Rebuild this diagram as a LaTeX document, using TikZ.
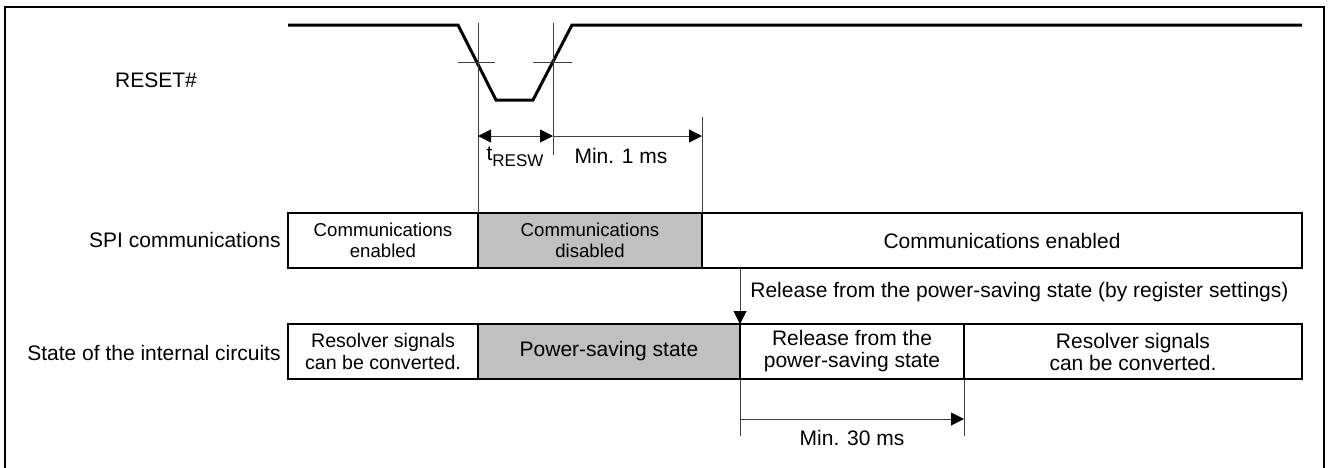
\documentclass[tikz,border=0pt]{standalone}
\usepackage{fontspec}
\setmainfont{Liberation Sans}
\usetikzlibrary{arrows.meta}
\begin{document}
\begin{tikzpicture}[x=0.5pt,y=-0.5pt,
  lbl/.style={inner sep=0pt, font=\fontsize{10.5}{12}\selectfont},
  box/.style={draw, line width=1.1pt, inner sep=0pt, outer sep=0pt, minimum height=27.5pt, anchor=west, align=center, font=\fontsize{10.5}{11}\selectfont},
  smallbox/.style={box, font=\fontsize{9.3}{10.6}\selectfont},
  midbox/.style={box, font=\fontsize{9.8}{10.6}\selectfont},
  offbox/.style={fill=offgray},
  thin/.style={line width=0.5pt, draw=black!75},
  sig/.style={line width=1.5pt, line join=miter},
  tip/.style={-{Triangle[length=6.5pt,width=6.5pt,color=black]}},
  tips/.style={{Triangle[length=6.5pt,width=6.5pt,color=black]}-{Triangle[length=6.5pt,width=6.5pt,color=black]}}
]
\definecolor{offgray}{HTML}{C0C0C0}
\useasboundingbox (0,0) rectangle (1328,467);
% frame
\draw[line width=1pt] (5,470) -- (5,7) -- (1324,7) -- (1324,470);

% labels
\node[lbl] (lreset) at (156,80) {RESET\#};
\node[lbl, anchor=east] (lspi) at (281,240) {SPI communications};
\node[lbl, anchor=east] (lstate) at (281,353) {State of the internal circuits};

% RESET# waveform
\draw[sig] (288,25) -- (458,25) -- (496,100) -- (533,100) -- (572,25) -- (1302,25);
\draw[thin] (458,62) -- (495,62);
\draw[thin] (533,62) -- (572,62);

% SPI row
\node[smallbox, minimum width=95pt] (s1) at (288,240.5) {Communications\\enabled};
\node[smallbox, offbox, minimum width=112pt] (s2) at (478,240.5) {Communications\\disabled};
\node[box, minimum width=300pt] (s3) at (702,240.5) {Communications enabled};

% State row
\node[midbox, minimum width=95pt] (c1) at (288,351.5) {Resolver signals\\can be converted.};
\node[box, offbox, minimum width=131pt] (c2) at (478,351.5) {Power-saving state};
\node[box, minimum width=112pt] (c3) at (740,351.5) {Release from the\\power-saving state};
\node[box, minimum width=169pt] (c4) at (964,351.5) {Resolver signals\\can be converted.};

% timing coordinates
\coordinate (v1t) at (478,23);
\coordinate (v2t) at (553,23);
\coordinate (v2b) at (553,155);
\coordinate (v3t) at (702,117);
\coordinate (a1) at (478,136);
\coordinate (a2) at (553,136);
\coordinate (a3) at (702,136);
\draw[thin] (v1t) -- (s2.north west);
\draw[thin] (v2t) -- (v2b);
\draw[thin] (v3t) -- (s3.north west);
\draw[thin, tips] (a1) -- (a2);
\draw[thin, tip] (a2) -- (a3);
\node[lbl] (tresw) at (515,157) {t\raisebox{-2.8pt}{\fontsize{8.5}{9}\selectfont RESW}};
\node[lbl] (min1) at (621,156) {Min. 1 ms};

% release arrow
\coordinate (rtop) at (740,268);
\draw[thin, tip] (rtop) -- (c3.north west);
\node[lbl, anchor=west] (rel) at (750,292) {Release from the power-saving state (by register settings)};

% min 30 ms
\coordinate (w1b) at (740,436);
\coordinate (w2b) at (964,436);
\coordinate (b1) at (740,419);
\coordinate (b2) at (964,419);
\draw[thin] (c3.south west) -- (w1b);
\draw[thin] (c4.south west) -- (w2b);
\draw[thin, tip] (b1) -- (b2);
\node[lbl] (min30) at (852,438) {Min. 30 ms};
\end{tikzpicture}
\end{document}
